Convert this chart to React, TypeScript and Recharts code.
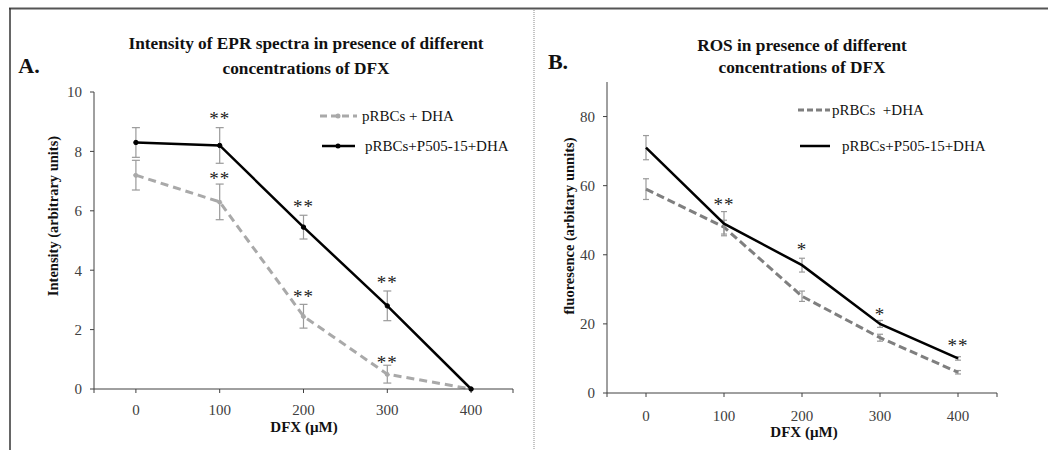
import React from 'react';
import {
  ComposedChart,
  Line,
  Scatter,
  XAxis,
  YAxis,
  ErrorBar,
} from 'recharts';

// DFX concentrations (µM)
const doses = [0, 100, 200, 300, 400];

// panel A: EPR intensity
const eprDha = [7.2, 6.3, 2.45, 0.5, 0];
const eprDhaErr = [0.5, 0.6, 0.4, 0.3, 0];
const eprP505 = [8.3, 8.2, 5.45, 2.8, 0];
const eprP505Err = [0.5, 0.6, 0.4, 0.5, 0];

// panel B: ROS fluorescence
const rosDha = [59, 48, 28, 16, 6];
const rosDhaErr = [3, 2, 1.5, 1, 0.5];
const rosP505 = [71, 49, 37, 20, 10];
const rosP505Err = [3.5, 3.5, 2, 1, 0.5];

// significance marks
const eprStarX = [100, 100, 200, 200, 300, 300];
const eprStarY = [9.2, 7.2, 6.25, 3.2, 3.7, 1.0];
const eprStarText = ['**', '**', '**', '**', '**', '**'];
const rosStarX = [100, 200, 300, 400];
const rosStarY = [55.5, 42.5, 23.5, 14.5];
const rosStarText = ['**', '*', '*', '**'];

const xTicks = [-50, 0, 100, 200, 300, 400, 450];
const eprYTicks = [0, 2, 4, 6, 8, 10];
const rosYTicks = [0, 20, 40, 60, 80];

const FONT = '"Liberation Serif", serif';
const AXIS = '#404040';
const GRAY_A = '#a9a9a9';
const GRAY_B = '#7f7f7f';
const ERR = '#9a9a9a';

const eprData = doses.map((dose, i) => ({
  dose,
  dha: eprDha[i],
  dhaErr: eprDhaErr[i],
  p505: eprP505[i],
  p505Err: eprP505Err[i],
}));

const rosData = doses.map((dose, i) => ({
  dose,
  dha: rosDha[i],
  dhaErr: rosDhaErr[i],
  p505: rosP505[i],
  p505Err: rosP505Err[i],
}));

const eprStars = eprStarX.map((dose, i) => ({ dose, y: eprStarY[i], mark: eprStarText[i] }));
const rosStars = rosStarX.map((dose, i) => ({ dose, y: rosStarY[i], mark: rosStarText[i] }));

const tickStyle = { fontFamily: FONT, fontSize: 15, fill: AXIS };
const xFmt = (v: number) => (v < 0 || v > 400 ? '' : String(v));

function Star(props: any) {
  const { cx, cy, payload } = props;
  return (
    <text
      x={cx}
      y={cy}
      dy={3}
      textAnchor="middle"
      dominantBaseline="central"
      fontFamily={FONT}
      fontSize={19}
      letterSpacing={1}
      fill="#222"
    >
      {payload.mark}
    </text>
  );
}

function Overlay() {
  const t = (x: number, y: number, s: string, size: number, bold = true, anchor: any = 'middle', rot = 0) => (
    <text
      x={x}
      y={y}
      textAnchor={anchor}
      dominantBaseline="central"
      fontFamily={FONT}
      fontSize={size}
      fontWeight={bold ? 'bold' : 'normal'}
      fill="#111"
      transform={rot ? `rotate(${rot} ${x} ${y})` : undefined}
    >
      {s}
    </text>
  );
  return (
    <svg
      width={1048}
      height={450}
      style={{ position: 'absolute', left: 0, top: 0, pointerEvents: 'none' }}
    >
      {/* frame */}
      <line x1={9} y1={8.5} x2={1048} y2={8.5} stroke="#555" strokeWidth={2} />
      <line x1={10} y1={8} x2={10} y2={450} stroke="#333" strokeWidth={1.5} />
      <line x1={534} y1={10} x2={534} y2={450} stroke="#c4c4c4" strokeWidth={2} strokeDasharray="1 1" />

      {/* panel A text */}
      {t(29, 65, 'A.', 22)}
      {t(306, 43, 'Intensity of EPR spectra in presence of different', 17.3)}
      {t(306, 68, 'concentrations of DFX', 17.3)}
      {t(53, 216, 'Intensity (arbitrary units)', 14.5, true, 'middle', -90)}
      {t(304, 427, 'DFX (µM)', 15)}

      {/* panel A legend */}
      <line x1={320} y1={116} x2={357} y2={116} stroke={GRAY_A} strokeWidth={3} strokeDasharray="7 4" />
      <circle cx={338} cy={116} r={2.5} fill={GRAY_A} />
      {t(362, 116, 'pRBCs + DHA', 15, false, 'start')}
      <line x1={322} y1={146} x2={355} y2={146} stroke="#000" strokeWidth={2.5} />
      <circle cx={338} cy={146} r={2.5} fill="#000" />
      {t(365, 146, 'pRBCs+P505-15+DHA', 15, false, 'start')}

      {/* panel B text */}
      {t(558, 61, 'B.', 22)}
      {t(802, 45, 'ROS in presence of different', 17.3)}
      {t(802, 67, 'concentrations of DFX', 17.3)}
      {t(569, 226, 'fluoresence (arbitary unnits)', 14.5, true, 'middle', -90)}
      {t(804, 432, 'DFX (µM)', 15)}

      {/* panel B legend */}
      <line x1={798} y1={110} x2={830} y2={110} stroke={GRAY_B} strokeWidth={3} strokeDasharray="6 3" />
      {t(832, 110, 'pRBCs\u00a0 +DHA', 15, false, 'start')}
      <line x1={800} y1={146} x2={830} y2={146} stroke="#000" strokeWidth={2.5} />
      {t(842, 146, 'pRBCs+P505-15+DHA', 15, false, 'start')}
    </svg>
  );
}

export default function App() {
  return (
    <div
      style={{
        position: 'absolute',
        left: 0,
        top: 0,
        width: 1048,
        height: 450,
        background: '#fff',
        fontFamily: FONT,
      }}
    >
      <div style={{ position: 'absolute', left: 0, top: 0 }}>
        <ComposedChart
          width={524}
          height={450}
          data={eprData}
          margin={{ top: 92, right: 11, bottom: 31, left: 54 }}
        >
          <XAxis
            dataKey="dose"
            type="number"
            domain={[-50, 450]}
            ticks={xTicks}
            tickFormatter={xFmt}
            height={30}
            stroke={AXIS}
            tick={tickStyle}
            tickSize={4}
            tickMargin={11}
          />
          <YAxis
            type="number"
            domain={[0, 10]}
            ticks={eprYTicks}
            width={40}
            stroke={AXIS}
            tick={tickStyle}
            tickSize={4}
            tickMargin={8}
          />
          <Line
            dataKey="dha"
            stroke={GRAY_A}
            strokeWidth={3}
            strokeDasharray="8 5"
            dot={{ r: 2.2, fill: GRAY_A, stroke: GRAY_A, strokeWidth: 1 }}
            isAnimationActive={false}
          >
            <ErrorBar dataKey="dhaErr" width={4} stroke={ERR} strokeWidth={1.2} direction="y" />
          </Line>
          <Line
            dataKey="p505"
            stroke="#000"
            strokeWidth={2.5}
            dot={{ r: 2.2, fill: '#000', stroke: '#000', strokeWidth: 1 }}
            isAnimationActive={false}
          >
            <ErrorBar dataKey="p505Err" width={4} stroke={ERR} strokeWidth={1.2} direction="y" />
          </Line>
          <Scatter data={eprStars} dataKey="y" shape={<Star />} isAnimationActive={false} />
        </ComposedChart>
      </div>

      <div style={{ position: 'absolute', left: 524, top: 0 }}>
        <ComposedChart
          width={524}
          height={450}
          data={rosData}
          margin={{ top: 82, right: 51, bottom: 27, left: 43 }}
        >
          <XAxis
            dataKey="dose"
            type="number"
            domain={[-50, 450]}
            ticks={xTicks}
            tickFormatter={xFmt}
            height={30}
            stroke={AXIS}
            tick={tickStyle}
            tickSize={4}
            tickMargin={13}
          />
          <YAxis
            type="number"
            domain={[0, 90]}
            ticks={rosYTicks}
            width={40}
            stroke={AXIS}
            tick={tickStyle}
            tickSize={4}
            tickMargin={8}
          />
          <Line
            dataKey="dha"
            stroke={GRAY_B}
            strokeWidth={3}
            strokeDasharray="8 4"
            dot={false}
            isAnimationActive={false}
          >
            <ErrorBar dataKey="dhaErr" width={3} stroke={ERR} strokeWidth={1.2} direction="y" />
          </Line>
          <Line
            dataKey="p505"
            stroke="#000"
            strokeWidth={2.5}
            dot={false}
            isAnimationActive={false}
          >
            <ErrorBar dataKey="p505Err" width={3} stroke={ERR} strokeWidth={1.2} direction="y" />
          </Line>
          <Scatter data={rosStars} dataKey="y" shape={<Star />} isAnimationActive={false} />
        </ComposedChart>
      </div>

      <Overlay />
    </div>
  );
}
